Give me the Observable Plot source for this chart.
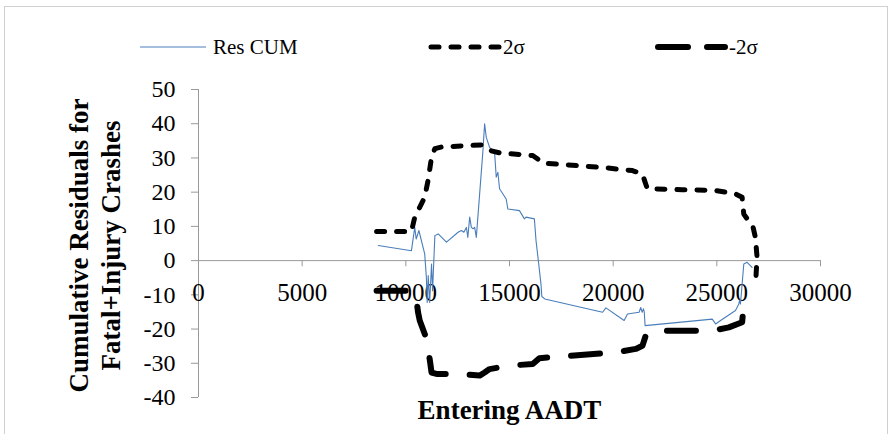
<!DOCTYPE html>
<html><head><meta charset="utf-8">
<script src="https://cdn.jsdelivr.net/npm/d3@7"></script>
<script src="https://cdn.jsdelivr.net/npm/@observablehq/plot@0.6"></script>
<style>
body{margin:0;background:#fff;}
#wrap{position:relative;width:894px;height:434px;overflow:hidden;font-family:"Liberation Serif","Times New Roman",serif;}
#frame{position:absolute;left:4px;top:6px;width:884px;height:460px;border:1px solid #d0d0d0;box-sizing:border-box;}
#chart{position:absolute;left:0;top:0;}
.item{position:absolute;top:33px;height:28px;display:flex;align-items:center;font-size:21px;color:#000;white-space:nowrap;}
.item svg{display:block;}
</style></head>
<body>
<div id="wrap">
  <div id="frame"></div>
  <div id="chart"></div>
  <div class="item" style="left:140px"><svg width="66" height="12"><line x1="0" y1="6" x2="66" y2="6" stroke="#4A7EBB" stroke-width="1.2"/></svg><span style="margin-left:7px">Res CUM</span></div>
  <div class="item" style="left:428px"><svg width="75" height="12"><line x1="3" y1="6" x2="72" y2="6" stroke="#000" stroke-width="5" stroke-dasharray="8,12" stroke-linecap="round"/></svg><span>2σ</span></div>
  <div class="item" style="left:655px"><svg width="74" height="12"><line x1="3" y1="6" x2="70" y2="6" stroke="#000" stroke-width="6" stroke-dasharray="30,19" stroke-linecap="round"/></svg><span>-2σ</span></div>
</div>
<script>
// Tick values
const xTicks = [0, 5000, 10000, 15000, 20000, 25000, 30000];
const yTicks = [-40, -30, -20, -10, 0, 10, 20, 30, 40, 50];

// Res CUM series
const resX = [8670, 10270, 10430, 10500, 10630, 10910, 10990, 11030, 11080, 11150, 11240, 11290, 11400, 11560, 11960, 12520, 12680, 12800, 12920, 12990, 13080, 13160, 13240, 13320, 13400, 13560, 13720, 13800, 13880, 14040, 14280, 14360, 14440, 14520, 14840, 14920, 15480, 15720, 15800, 16200, 16280, 16410, 16520, 16560, 16700, 19490, 19650, 20530, 20690, 21250, 21330, 21400, 21460, 21500, 21540, 24780, 24940, 25180, 25900, 26060, 26100, 26140, 26300, 26460, 26700];
const resY = [4.4, 2.9, 9.7, 6.3, 8.8, 2, -4.9, -12.2, -4.4, -12.2, -1, -8.8, 7.3, 7.8, 5.4, 8.3, 8.8, 8.3, 9.7, 6.8, 12.7, 9.7, 9.3, 9.7, 6.8, 19.5, 32.2, 40, 36, 33.1, 31.7, 24.4, 25.8, 21, 18, 15.1, 14.6, 12.2, 12.7, 12.2, 5.8, -1, -7, -10.5, -11.2, -15.1, -13.8, -17.5, -15.6, -15.1, -13.7, -15.1, -14.1, -15, -19, -17.1, -18.5, -17.5, -14.6, -12.7, -11.5, -12.7, -1, -0.5, -2];

// 2σ series
const upX = [8590, 10270, 10430, 10910, 11070, 11240, 11400, 11720, 13640, 14040, 14520, 16120, 16360, 16600, 19330, 20930, 21410, 21570, 21650, 23330, 24940, 25900, 26220, 26300, 26540, 26730, 26860, 26940, 26860];
const upY = [8.5, 8.5, 12.7, 18.5, 23.4, 30.2, 32.7, 33.2, 33.8, 32.2, 31.5, 30.7, 29.7, 28.5, 27.3, 26.3, 25.3, 22.4, 21, 20.7, 20.5, 19.5, 18.5, 13.6, 11.5, 10.2, 6.8, 1, -7.8];

// -2σ series
const loX = [8590, 10340, 10500, 10590, 10670, 11000, 11160, 11240, 11480, 12520, 13560, 13800, 14040, 15000, 16120, 16440, 20130, 21090, 21410, 21570, 21890, 22850, 24780, 25580, 26220, 26300, 26300];
const loY = [-8.8, -8.8, -11, -15.1, -17.5, -22.9, -29.2, -32.7, -33.1, -33.1, -33.6, -32.7, -31.7, -30.7, -30.2, -28.5, -26.8, -25.8, -24.9, -21.9, -20.5, -20.5, -20.5, -19.5, -18, -12.7, -12.5];

const res = resX.map((x, i) => ({x, y: resY[i]}));
const up = upX.map((x, i) => ({x, y: upY[i]}));
const lo = loX.map((x, i) => ({x, y: loY[i]}));

const chart = Plot.plot({
  width: 894, height: 434,
  marginLeft: 198, marginRight: 74, marginTop: 89, marginBottom: 37,
  x: {domain: [0, 30000], axis: null},
  y: {domain: [-40, 50], axis: null},
  style: {fontFamily: "'Liberation Serif','Times New Roman',serif", background: "transparent", color: "#000", overflow: "visible"},
  marks: [
    Plot.ruleX([0], {stroke: "#999"}),
    Plot.ruleY([0], {stroke: "#999"}),
    Plot.axisY({ticks: yTicks, tickFormat: d => String(d), tickSize: 7, tickPadding: 16, fontSize: 24, stroke: "#999", fill: "#000", label: null}),
    Plot.ruleX(xTicks, {x: d => d, y1: 0, y2: -1.8, stroke: "#999"}),
    Plot.text(xTicks, {x: d => d, y: 0, dy: 32, text: d => String(d), fontSize: 25, fill: "#000"}),
    Plot.line(res, {x: "x", y: "y", stroke: "#4A7EBB", strokeWidth: 1.1}),
    Plot.line(up, {x: "x", y: "y", stroke: "#000", strokeWidth: 5, strokeDasharray: "8,12", strokeLinecap: "round", strokeLinejoin: "round"}),
    Plot.line(lo, {x: "x", y: "y", stroke: "#000", strokeWidth: 6, strokeDasharray: "29,24", strokeLinecap: "round", strokeLinejoin: "round"}),
    Plot.text(["Cumulative Residuals for"], {frameAnchor: "left", textAnchor: "middle", dx: -119, dy: 2, rotate: -90, fontSize: 27, fontWeight: "bold", fill: "#000"}),
    Plot.text(["Fatal+Injury Crashes"], {frameAnchor: "left", textAnchor: "middle", dx: -87, dy: 2, rotate: -90, fontSize: 27, fontWeight: "bold", fill: "#000"}),
    Plot.text(["Entering AADT"], {frameAnchor: "bottom", dy: 21, fontSize: 27, fontWeight: "bold", fill: "#000"})
  ]
});
document.getElementById("chart").appendChild(chart);
</script>
</body></html>
